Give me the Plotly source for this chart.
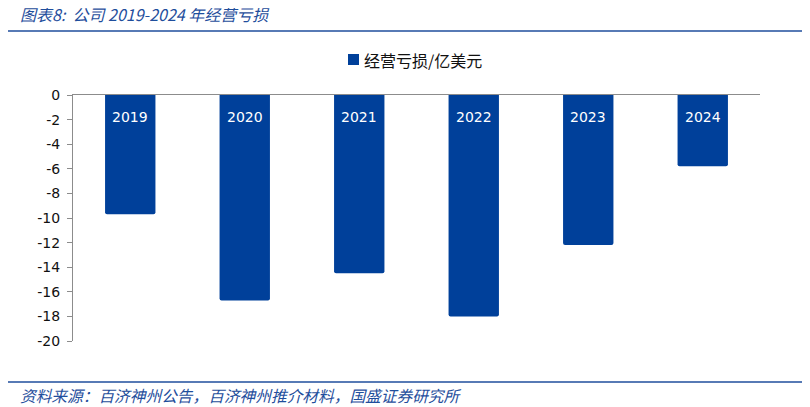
import plotly.graph_objects as go

categories = ["2019", "2020", "2021", "2022", "2023", "2024"]
loss = [-9.7, -16.7, -14.5, -18.0, -12.2, -5.8]
series_name = "经营亏损/亿美元"
title_text = "图表8:  公司 2019-2024 年经营亏损"
source_text = "资料来源：百济神州公告，百济神州推介材料，国盛证券研究所"
y_ticks = list(range(0, -21, -2))
y_ticktext = [str(v) for v in y_ticks]

BLUE = "#00409A"
TITLE_BLUE = "#1F4E9C"

# page body has an 8px margin; work in reference pixel coords and shift
OFF = 8
W, H = 810 - OFF, 407 - OFF
L, R, T, B = 73, 760, 95, 341
pw, ph = R - L, B - T
def px(x): return (x - L) / pw
def py(y): return (B - y) / ph

fig = go.Figure()
fig.add_trace(go.Bar(
    x=categories, y=loss, name=series_name,
    marker=dict(color=BLUE, cornerradius=2, line=dict(width=0)),
    width=0.44, showlegend=False,
))

# category labels inside bars (category axis -> index position)
for i, c in enumerate(categories):
    fig.add_annotation(x=i, y=-1.8, text=c, showarrow=False,
                       font=dict(family="DejaVu Sans", size=14, color="white"),
                       xref="x", yref="y")

# manual legend
fig.add_shape(type="rect", xref="paper", yref="paper",
              x0=px(348), x1=px(359), y0=py(65), y1=py(54),
              fillcolor=BLUE, line=dict(width=0))
fig.add_annotation(x=px(362), y=py(60), xref="paper", yref="paper",
                   text=series_name, showarrow=False,
                   xanchor="left", yanchor="middle",
                   font=dict(family="Noto Sans CJK SC", size=16, color="#111"))

fig.add_annotation(x=px(18), y=py(14), xref="paper", yref="paper",
                   text="<i>" + title_text + "</i>", showarrow=False,
                   xanchor="left", yanchor="middle",
                   font=dict(family="Noto Sans CJK SC", size=16, color=TITLE_BLUE))
fig.add_annotation(x=px(18), y=py(395), xref="paper", yref="paper",
                   text="<i>" + source_text + "</i>", showarrow=False,
                   xanchor="left", yanchor="middle",
                   font=dict(family="Noto Sans CJK SC", size=15.7, color=TITLE_BLUE))
fig.add_shape(type="line", xref="paper", yref="paper",
              x0=px(8), x1=px(805), y0=py(31), y1=py(31),
              line=dict(color=TITLE_BLUE, width=1.5))
fig.add_shape(type="line", xref="paper", yref="paper",
              x0=px(8), x1=px(805), y0=py(382), y1=py(382),
              line=dict(color=TITLE_BLUE, width=1.5))

fig.update_layout(
    width=W, height=H,
    margin=dict(l=L - OFF, r=810 - R, t=T - OFF, b=407 - B),
    paper_bgcolor="white", plot_bgcolor="white",
    showlegend=False,
    xaxis=dict(type="category", categoryorder="array", categoryarray=categories,
               range=[-0.5, len(categories) - 0.5], autorange=False,
               side="top", showline=True, linecolor="#8c8c8c",
               linewidth=1, showticklabels=False, ticks="", showgrid=False,
               zeroline=False),
    yaxis=dict(range=[-20, 0], autorange=False, tickvals=y_ticks, ticktext=y_ticktext,
               showgrid=False, zeroline=False,
               showline=True, linecolor="#8c8c8c", linewidth=1,
               ticks="outside", ticklen=5, tickcolor="#8c8c8c",
               tickfont=dict(family="DejaVu Sans", size=14, color="#111"),
               ticklabelstandoff=4),
)

fig.write_html("out.html")
